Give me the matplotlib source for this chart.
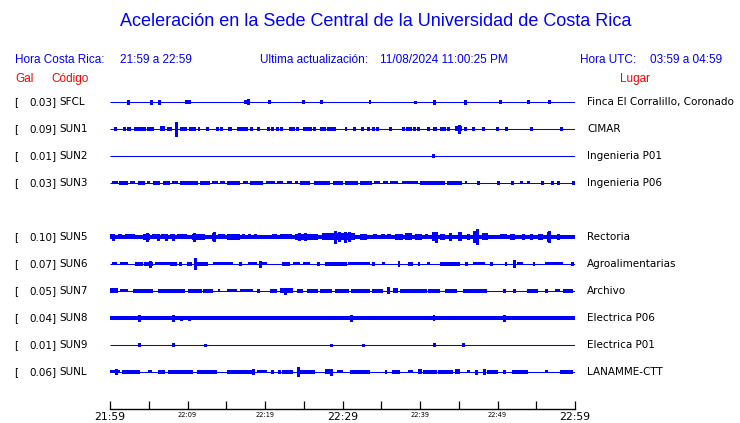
import matplotlib
matplotlib.use("Agg")
import matplotlib.pyplot as plt

# ---------------- data ----------------
codes = ["SFCL", "SUN1", "SUN2", "SUN3", "SUN5", "SUN6", "SUN7", "SUN8", "SUN9", "SUNL"]
peak_gal = ["0.03", "0.09", "0.01", "0.03", "0.10", "0.07", "0.05", "0.04", "0.01", "0.06"]
places = ["Finca El Corralillo, Coronado", "CIMAR", "Ingenieria P01", "Ingenieria P06",
          "Rectoria", "Agroalimentarias", "Archivo", "Electrica P06", "Electrica P01", "LANAMME-CTT"]
# background noise half-amplitude of each trace (relative units)
noise = [0.5, 0.5, 0.5, 0.5, 2.1, 0.5, 0.5, 1.7, 0.5, 0.5]

# bursts: (start minute after 21:59, duration in minutes, half amplitude)
sfcl = [(2.3, .13, 1.7), (5.2, .13, 1.7), (6.3, .13, 1.7), (9.7, .13, 1.5), (10.1, .3, 2.0),
        (17.4, .13, 1.5), (17.7, .3, 2.7), (20.4, .13, 1.5), (24.8, .3, 2.0), (27.2, .13, 1.5),
        (33.4, .3, 2.0), (39.3, .13, 1.3), (41.7, .13, 2.3), (45.8, .13, 1.7), (50.2, .13, 1.5),
        (53.9, .13, 1.5), (56.6, .13, 1.5)]
sun1 = [(0.6, .13, 1.5), (1.8, .13, 1.5), (2.2, .13, 1.5), (2.45, .13, 1.5), (3.2, .13, 1.5),
        (3.5, .13, 1.5), (3.9, .13, 1.5), (4.3, .13, 1.5), (4.8, .13, 1.5), (5.0, .13, 1.5),
        (5.4, .13, 1.5), (6.5, .6, 2.5), (7.4, .6, 2.2), (8.5, .13, 7.0), (9.0, .9, 2.2),
        (10.2, .9, 2.0), (11.4, .2, 1.8), (12.4, .13, 1.5), (13.8, .13, 1.5), (14.2, .13, 1.5),
        (15.2, .6, 1.8), (16.4, .13, 1.5), (16.8, .13, 1.5), (17.2, .13, 1.5), (17.5, .13, 1.5),
        (18.1, .13, 1.5), (19.0, .13, 1.5), (20.3, .13, 1.5), (20.9, .13, 1.5), (21.5, .13, 1.5),
        (21.9, .4, 2.2), (23.2, .13, 1.5), (23.6, .13, 1.5), (24.1, .13, 1.5), (25.0, .13, 1.5),
        (25.4, .13, 1.5), (25.8, .13, 1.5), (26.2, .13, 1.5), (27.1, .13, 1.5), (27.6, .13, 1.5),
        (28.0, .13, 1.5), (28.4, .13, 1.5), (28.8, .13, 1.5), (30.3, .3, 2.0), (31.4, .3, 2.0),
        (32.5, .13, 1.5), (33.2, .13, 1.5), (33.9, .13, 1.5), (34.4, .13, 1.5), (36.1, .13, 1.5),
        (37.8, .13, 1.5), (38.2, .13, 1.5), (38.6, .13, 1.5), (39.1, .13, 1.5), (39.7, .13, 1.5),
        (40.9, .4, 2.0), (41.7, .5, 2.2), (42.6, .13, 1.5), (43.0, .13, 1.5), (43.5, .13, 1.5),
        (44.5, .9, 2.5), (45.0, .13, 4.3), (45.7, .13, 1.5), (46.8, .13, 1.5), (48.1, .13, 1.5),
        (49.9, .13, 1.5), (51.0, .13, 1.5), (54.2, .13, 1.5), (58.1, .3, 2.0)]
sun2 = [(41.6, .13, 1.5)]
sun3 = [(0.26, .8, 1.5), (1.16, 1.16, 1.7), (2.58, .65, 1.5), (3.61, .9, 1.7), (4.77, .4, 1.5),
        (5.55, .9, 1.7), (6.84, .9, 1.7), (8.0, .77, 1.5), (9.03, 2.3, 1.7), (11.61, 1.3, 1.7),
        (13.16, .77, 1.5), (14.19, .65, 1.5), (15.1, 1.68, 1.7), (17.16, .65, 1.5), (18.06, 1.68, 1.7),
        (20.13, 1.16, 1.5), (21.55, .77, 1.5), (22.84, .65, 1.5), (23.87, .4, 1.5), (24.52, 1.3, 1.7),
        (26.32, 2.07, 1.7), (28.77, 1.3, 1.7), (30.32, 1.68, 1.7), (32.26, 1.55, 1.7), (34.06, .77, 1.5),
        (35.23, .65, 1.5), (36.13, 1.03, 1.5), (37.68, 2.07, 1.5), (40.0, 3.23, 2.2), (43.48, 1.94, 1.8),
        (45.81, .26, 1.5), (47.48, .13, 1.5), (49.94, .13, 1.5), (51.87, .13, 1.5), (52.9, .4, 1.5),
        (53.81, .4, 1.5), (55.74, .13, 1.5), (57.03, .13, 1.5), (57.68, .13, 1.5), (59.74, .13, 1.5)]
sun5 = [(0.0, .65, 2.5), (0.26, .13, 3.0), (1.03, .52, 2.5), (1.94, 1.29, 2.5), (4.26, .9, 3.2),
        (4.77, .13, 4.0), (5.42, .6, 2.5), (6.6, .6, 2.5), (7.7, .6, 2.5), (8.9, .6, 2.5),
        (6.19, .13, 3.0), (7.1, .13, 3.0), (8.0, .13, 3.0), (8.65, 1.29, 2.5), (10.58, 1.68, 3.0),
        (10.71, .13, 4.0), (13.16, .4, 4.0), (13.29, .13, 4.5), (13.94, .9, 2.5), (15.1, 1.68, 3.0),
        (17.03, .4, 2.5), (17.8, .4, 2.5), (18.6, .4, 2.5), (20.9, .65, 2.5), (21.94, 1.55, 2.5),
        (23.87, 2.97, 3.0), (24.26, .13, 3.5), (25.16, .13, 3.5), (27.35, 2.97, 3.5), (29.03, .13, 6.0),
        (29.42, .13, 4.5), (29.68, 1.94, 3.5), (30.32, .13, 5.0), (30.71, .13, 4.5), (32.26, .9, 3.0),
        (33.94, .5, 2.5), (35.0, .5, 2.5), (35.8, .5, 2.5), (36.77, 1.03, 3.0), (38.06, .9, 3.5),
        (39.35, .9, 3.0), (40.65, .4, 2.5), (41.55, .77, 4.5), (41.94, .13, 5.0), (42.58, .65, 3.0),
        (43.87, .13, 3.5), (44.9, .52, 4.5), (46.06, .4, 3.0), (46.84, .52, 6.0), (47.23, .13, 7.5),
        (48.0, .77, 3.5), (50.32, .9, 2.5), (51.61, .65, 3.0), (53.16, .4, 3.0), (54.19, .4, 3.0),
        (55.23, .65, 3.0), (56.39, .4, 5.0), (56.52, .13, 5.5), (57.68, .13, 2.5)]
sun6 = [(0.26, .65, 1.5), (1.29, 1.03, 1.5), (3.23, 1.03, 1.6), (4.39, 1.16, 2.0), (5.16, .13, 3.0),
        (5.81, 1.94, 1.5), (7.74, .9, 1.8), (9.03, .13, 1.5), (9.94, .65, 1.6), (10.84, .13, 5.5),
        (11.23, 1.42, 1.8), (13.29, 2.58, 1.5), (16.77, .13, 1.5), (17.81, 1.16, 1.5), (19.23, .13, 3.0),
        (19.35, .9, 1.5), (22.19, 1.03, 1.6), (23.61, .9, 1.5), (24.9, .9, 1.5), (26.71, .13, 1.5),
        (27.74, 2.84, 1.8), (30.71, 2.84, 1.5), (33.81, .4, 1.8), (35.1, .4, 1.5), (37.16, .3, 3.0),
        (38.45, .65, 1.8), (39.74, .3, 1.8), (40.9, .4, 1.5), (42.58, 2.58, 1.7), (45.81, .4, 1.8),
        (46.84, 1.55, 1.5), (49.03, .4, 1.8), (50.97, .3, 1.8), (52.0, .13, 3.5), (52.52, .77, 1.5),
        (54.58, .3, 1.8), (56.13, 2.3, 1.5), (59.61, .13, 1.5)]
sun7 = [(0.0, 1.03, 2.5), (1.29, 1.03, 1.5), (2.97, 2.58, 1.8), (6.19, 3.48, 1.8), (10.06, 1.81, 2.0),
        (12.0, 1.29, 1.8), (13.94, .26, 1.5), (15.1, 1.29, 1.5), (16.77, 1.68, 1.5), (18.97, .13, 1.5),
        (20.65, .9, 2.0), (21.94, 1.68, 2.5), (22.5, .13, 3.0), (24.13, .77, 2.2), (25.42, 1.42, 1.8),
        (27.1, 1.55, 1.8), (29.03, 1.81, 1.8), (31.1, 2.45, 1.8), (33.81, 1.42, 1.8), (35.74, .4, 3.5),
        (36.52, .65, 2.5), (37.42, 3.48, 1.8), (41.03, 1.55, 1.8), (43.23, 1.55, 2.0), (45.55, 3.1, 2.0),
        (50.71, .13, 1.5), (52.0, .13, 1.5), (53.81, 1.42, 1.8), (56.13, .13, 1.5), (57.42, .65, 1.5),
        (58.45, 1.3, 1.8)]
sun8 = [(3.74, .13, 2.5), (8.0, .13, 2.5), (9.16, .13, 2.2), (10.19, .13, 2.2), (30.97, .13, 2.5),
        (41.68, .26, 3.0), (50.71, .13, 2.5)]
sun9 = [(3.74, .13, 1.5), (8.0, .13, 1.5), (12.13, .13, 1.0), (28.5, .13, 1.0), (32.52, .13, 1.2),
        (41.68, .13, 1.5), (45.42, .13, 1.5)]
sunl = [(0.0, 1.29, 1.5), (0.65, .13, 2.5), (1.55, 2.32, 1.8), (4.9, .52, 1.5), (6.19, .9, 1.8),
        (7.48, 3.23, 1.8), (11.23, 2.58, 1.8), (15.1, 3.35, 1.8), (18.45, .13, 2.5), (18.97, 1.29, 1.5),
        (20.9, .13, 1.5), (21.68, .13, 1.5), (22.19, 1.42, 2.0), (24.13, .13, 4.5), (24.52, 1.94, 1.8),
        (27.74, 1.03, 2.5), (28.39, .13, 3.0), (29.29, .77, 1.5), (30.97, 2.58, 1.8), (35.48, .26, 2.0),
        (36.39, 1.03, 2.0), (38.45, .65, 1.5), (39.74, .52, 2.5), (40.39, 1.81, 1.8), (42.32, 1.94, 2.0),
        (44.52, .65, 2.5), (46.06, .4, 1.5), (47.1, .13, 2.0), (48.13, .13, 2.5), (48.65, 1.42, 1.8),
        (50.71, .13, 1.5), (51.87, 2.07, 1.8), (56.13, .4, 1.5), (58.06, 1.68, 1.8)]

bursts = [sfcl, sun1, sun2, sun3, sun5, sun6, sun7, sun8, sun9, sunl]

tick_minutes = list(range(0, 61, 5))
tick_labels = {0: "21:59", 10: "22:09", 20: "22:19", 30: "22:29", 40: "22:39", 50: "22:49", 60: "22:59"}
big_labels = [0, 30, 60]

# ---------------- layout ----------------
W, H = 740, 423
BLUE = "#0000ff"
RED = "#ff0000"
fig = plt.figure(figsize=(W / 100, H / 100), dpi=100)


def fx(px):
    return px / W


def fy(py):
    return 1 - py / H


SP = 27.0  # px per trace slot
ax = fig.add_axes([fx(110), fy(388), 465 / W, 300 / H])
ax.set_xlim(0, 60)
ax.set_ylim((388 - 102) / SP, (88 - 102) / SP)
ax.axis("off")

for i, code in enumerate(codes):
    slot = i if i < 4 else i + 1   # SUN4 slot is empty
    y = slot
    nb = noise[i] / SP
    if noise[i] > 0.6:
        ax.fill_between([0, 60], y - nb, y + nb, color=BLUE, linewidth=0, antialiased=False)
    ax.plot([0, 60], [y, y], color=BLUE, lw=0.75, solid_capstyle="butt")
    for t0, d, a in bursts[i]:
        if d < 0.2:
            ax.vlines(t0 + d / 2, y - a / SP, y + a / SP, color=BLUE, lw=0.75, antialiased=False)
        else:
            ax.bar(t0, 2 * a / SP, width=d, bottom=y - a / SP, align="edge", color=BLUE,
                   linewidth=0, antialiased=False)
    ypx = 102 + SP * slot
    fig.text(fx(14), fy(ypx), "[", fontsize=7.5, va="center", ha="left", family="DejaVu Sans")
    fig.text(fx(56), fy(ypx), f"{peak_gal[i]}]", fontsize=7.5, va="center", ha="right", family="DejaVu Sans")
    fig.text(fx(59), fy(ypx), code, fontsize=7.5, va="center", ha="left", family="DejaVu Sans")
    fig.text(fx(587), fy(ypx), places[i], fontsize=7.5, va="center", ha="left", family="DejaVu Sans")

# time axis
tax = fig.add_axes([fx(110), fy(409), 465 / W, 10 / H])
tax.set_xlim(0, 60)
tax.set_ylim(0, 1)
for s in ["top", "left", "right"]:
    tax.spines[s].set_visible(False)
tax.spines["bottom"].set_linewidth(1.0)
tax.set_yticks([])
tax.set_xticks(tick_minutes)
tax.set_xticklabels([tick_labels.get(m, "") for m in tick_minutes])
tax.tick_params(axis="x", direction="in", length=6, width=0.9, pad=2)
for m, lab in zip(tick_minutes, tax.get_xticklabels()):
    if m in big_labels:
        lab.set_fontsize(7.8)
    else:
        lab.set_fontsize(4.8)
        lab.set_y(0.2 / 423)
    lab.set_family("DejaVu Sans")
tax.patch.set_alpha(0)

# header texts
hf = "Liberation Sans"
fig.text(fx(376), fy(22), "Aceleración en la Sede Central de la Universidad de Costa Rica",
         fontsize=13, color=BLUE, ha="center", va="center", family=hf)
fig.text(fx(15), fy(60), "Hora Costa Rica:", fontsize=8.5, color=BLUE, va="center", family=hf)
fig.text(fx(120), fy(60), "21:59 a 22:59", fontsize=8.5, color=BLUE, va="center", family=hf)
fig.text(fx(260), fy(60), "Ultima actualización:", fontsize=8.5, color=BLUE, va="center", family=hf)
fig.text(fx(380), fy(60), "11/08/2024 11:00:25 PM", fontsize=8.5, color=BLUE, va="center", family=hf)
fig.text(fx(580), fy(60), "Hora UTC:", fontsize=8.5, color=BLUE, va="center", family=hf)
fig.text(fx(650), fy(60), "03:59 a 04:59", fontsize=8.5, color=BLUE, va="center", family=hf)
fig.text(fx(15), fy(79), "Gal", fontsize=8.5, color=RED, va="center", family=hf)
fig.text(fx(51), fy(79), "Código", fontsize=8.5, color=RED, va="center", family=hf)
fig.text(fx(620), fy(79), "Lugar", fontsize=8.5, color=RED, va="center", family=hf)

fig.savefig("out.png", dpi=100)
